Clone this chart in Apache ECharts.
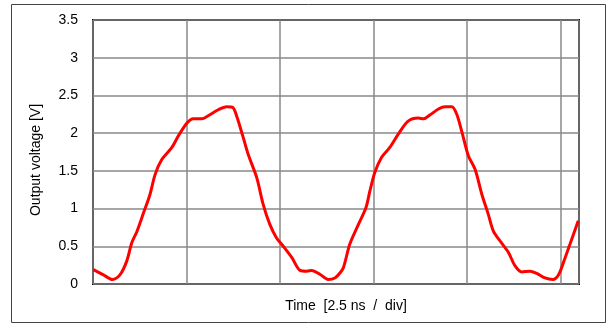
<!DOCTYPE html>
<html><head><meta charset="utf-8">
<script src="https://cdn.jsdelivr.net/npm/echarts@6/dist/echarts.min.js"></script>
<style>html,body{margin:0;padding:0;background:#fff}#c{width:614px;height:325px}</style>
</head><body><div id="c"></div>
<script>
// time in ns (2.5 ns per division), output voltage in V
const timeNs = [0.01,0.28,0.52,0.72,0.90,1.04,1.17,1.35,1.52,1.66,1.84,2.11,2.28,2.51,2.68,2.91,3.08,3.35,3.58,3.74,3.84,4.02,4.15,4.38,4.55,4.73,4.91,5.09,5.32,5.54,5.72,5.85,6.07,6.29,6.47,6.61,6.70,6.87,7.10,7.30,7.41,7.54,7.72,7.94,8.17,8.43,8.70,8.84,9.01,9.24,9.42,9.60,9.73,9.86,10.04,10.22,10.40,10.57,10.71,10.89,11.11,11.29,11.47,11.69,11.87,12.09,12.30,12.45,12.58,12.76,12.98];
const voltage = [0.19,0.12,0.06,0.12,0.30,0.55,0.69,0.94,1.18,1.45,1.65,1.81,1.96,2.13,2.19,2.19,2.23,2.31,2.35,2.34,2.23,1.94,1.72,1.41,1.06,0.79,0.61,0.50,0.35,0.18,0.17,0.18,0.13,0.06,0.08,0.15,0.22,0.53,0.79,1.01,1.24,1.48,1.68,1.81,1.99,2.16,2.20,2.19,2.24,2.32,2.35,2.35,2.25,2.03,1.70,1.52,1.19,0.93,0.70,0.57,0.42,0.24,0.16,0.17,0.14,0.08,0.06,0.12,0.28,0.53,0.84];
const yTicks = [0,0.5,1,1.5,2,2.5,3,3.5];
const xLabel = 'Time  [2.5 ns  /  div]';
const yLabel = 'Output voltage [V]';

const chart = echarts.init(document.getElementById('c'), null, {renderer:'canvas'});
const font = 'Liberation Sans, Arial, sans-serif';
chart.setOption({
  animation:false,
  backgroundColor:'#fff',
  graphic:[{type:'rect',shape:{x:11.5,y:4.5,width:594,height:318},style:{fill:'none',stroke:'#444',lineWidth:1},z:-1}],
  grid:{left:93,right:35,top:20,bottom:41,show:true,borderColor:'#000',borderWidth:2,backgroundColor:'#fff'},
  xAxis:{type:'value',min:0,max:13,interval:2.5,
    name:xLabel,nameLocation:'middle',nameGap:15,
    nameTextStyle:{fontFamily:font,fontSize:14,color:'#000',padding:[0,0,0,20]},
    axisLine:{show:false},axisTick:{show:false},axisLabel:{show:false},
    splitLine:{show:true,lineStyle:{color:'#888',width:1.5}}},
  yAxis:{type:'value',min:yTicks[0],max:yTicks[yTicks.length-1],interval:0.5,
    name:yLabel,nameLocation:'middle',nameGap:50,
    nameTextStyle:{fontFamily:font,fontSize:14,color:'#000',padding:[0,16,0,0]},
    axisLine:{show:false},axisTick:{show:false},
    axisLabel:{fontFamily:font,fontSize:14,color:'#000',margin:15},
    splitLine:{show:true,lineStyle:{color:'#888',width:1.5}}},
  series:[{type:'line',data:timeNs.map((t,i)=>[t,voltage[i]]),
    showSymbol:false,smooth:0.3,
    lineStyle:{color:'#ff0000',width:3},z:5}]
});
</script></body></html>
